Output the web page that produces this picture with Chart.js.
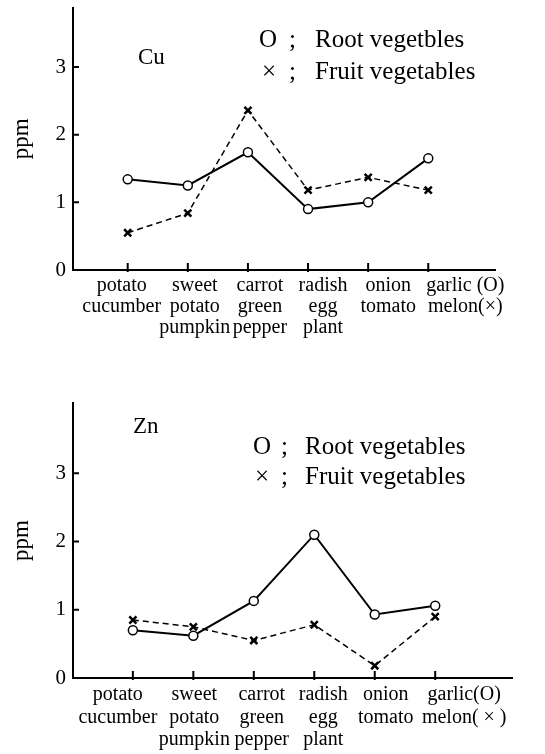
<!DOCTYPE html>
<html>
<head>
<meta charset="utf-8">
<script src="https://cdn.jsdelivr.net/npm/chart.js@4"></script>
<style>
  html, body { margin: 0; padding: 0; background: #fff; }
  .box { position: absolute; left: 0; width: 545px; }
  #cuBox { top: 0; height: 370px; }
  #znBox { top: 370px; height: 384px; }
</style>
</head>
<body>
<div class="box" id="cuBox"><canvas id="cuChart"></canvas></div>
<div class="box" id="znBox"><canvas id="znChart"></canvas></div>
<script>
// Cu panel
const cuLabels = [
  ["potato", "cucumber"],
  ["sweet", "potato", "pumpkin"],
  ["carrot", "green", "pepper"],
  ["radish", "egg", "plant"],
  ["onion", "tomato"],
  ["garlic (O)", "melon(\u00d7)"],
];
const cuRoot = [1.34, 1.25, 1.74, 0.90, 1.00, 1.65];
const cuFruit = [0.55, 0.84, 2.36, 1.18, 1.37, 1.18];

// Zn panel
const znLabels = [
  ["potato", "cucumber"],
  ["sweet", "potato", "pumpkin"],
  ["carrot", "green", "pepper"],
  ["radish", "egg", "plant"],
  ["onion", "tomato"],
  ["garlic(O)", "melon( \u00d7 )"],
];
const znRoot = [0.70, 0.62, 1.13, 2.10, 0.93, 1.06];
const znFruit = [0.85, 0.75, 0.55, 0.78, 0.18, 0.90];

const yTicks = [0, 1, 2, 3];

const FONT = "'Liberation Serif', 'DejaVu Serif', serif";

// tick marks, category labels and the in-plot notes
const decorations = {
  id: "decorations",
  afterDraw(chart, args, opts) {
    const ctx = chart.ctx;
    const xs = chart.scales.x;
    const ys = chart.scales.y;
    ctx.save();
    ctx.strokeStyle = "#000";
    ctx.lineWidth = 2;
    ctx.beginPath();
    opts.labels.forEach((lab, i) => {
      const px = xs.getPixelForValue(i);
      ctx.moveTo(px, ys.bottom - 7);
      ctx.lineTo(px, ys.bottom + 2);
    });
    yTicks.forEach((v) => {
      if (v === 0) return;
      const py = ys.getPixelForValue(v);
      ctx.moveTo(xs.left, py);
      ctx.lineTo(xs.left + 6, py);
    });
    ctx.stroke();

    ctx.fillStyle = "#000";
    ctx.textBaseline = "middle";
    ctx.textAlign = "center";
    ctx.font = "20px " + FONT;
    opts.labels.forEach((lines, i) => {
      const px = xs.getPixelForValue(i) + opts.shift[i];
      lines.forEach((t, j) => {
        ctx.fillText(t, px, ys.bottom + opts.firstLine + j * opts.pitch);
      });
    });

    ctx.textAlign = "left";
    opts.notes.forEach((n) => {
      ctx.font = n.size + "px " + FONT;
      ctx.fillText(n.text, n.x, n.y);
    });
    ctx.restore();
  },
};

function makeChart(id, root, fruit, cfg) {
  const ctx = document.getElementById(id).getContext("2d");
  return new Chart(ctx, {
    type: "line",
    data: {
      datasets: [
        {
          label: "Root vegetables",
          data: root.map((v, i) => ({ x: i, y: v })),
          borderColor: "#000",
          borderWidth: 2,
          pointStyle: "circle",
          pointRadius: 4.5,
          pointBackgroundColor: "#fff",
          pointBorderColor: "#000",
          pointBorderWidth: 1.5,
          tension: 0,
        },
        {
          label: "Fruit vegetables",
          data: fruit.map((v, i) => ({ x: i, y: v })),
          borderColor: "#000",
          borderWidth: 1.5,
          borderDash: [6, 4],
          pointStyle: "crossRot",
          pointRadius: 5,
          pointBorderColor: "#000",
          pointBorderWidth: 2.5,
          tension: 0,
        },
      ],
    },
    options: {
      responsive: true,
      maintainAspectRatio: false,
      animation: false,
      layout: { padding: { left: 0, right: cfg.right, top: cfg.top, bottom: 0 } },
      plugins: {
        legend: { display: false },
        tooltip: { enabled: false },
        decorations: {
          labels: cfg.labels,
          shift: cfg.shift,
          firstLine: cfg.firstLine,
          pitch: cfg.pitch,
          notes: cfg.notes,
        },
      },
      scales: {
        x: {
          type: "linear",
          min: cfg.xMin,
          max: cfg.xMax,
          grid: { display: false },
          border: { display: true, color: "#000", width: 2 },
          ticks: { display: false },
          afterFit: (scale) => {
            scale.height = cfg.xHeight;
            scale.paddingLeft = 0;
            scale.paddingRight = 0;
          },
        },
        y: {
          type: "linear",
          min: 0,
          max: cfg.yMax,
          afterBuildTicks: (scale) => {
            scale.ticks = yTicks.map((v) => ({ value: v }));
          },
          grid: { display: false, drawTicks: false },
          border: { display: true, color: "#000", width: 2 },
          ticks: {
            color: "#000",
            padding: 7,
            font: { family: FONT, size: 21 },
          },
          title: {
            display: true,
            text: "ppm",
            color: "#000",
            font: { family: FONT, size: 23 },
            padding: { top: 8, bottom: 0 },
          },
          afterFit: (scale) => {
            scale.width = cfg.yWidth;
            scale.paddingTop = 0;
            scale.paddingBottom = 0;
          },
        },
      },
    },
    plugins: [decorations],
  });
}

makeChart("cuChart", cuRoot, cuFruit, {
  labels: cuLabels,
  shift: [-6, 7, 12, 15, 20, 37],
  firstLine: 16,
  pitch: 21,
  xMin: -0.91,
  xMax: 6.11,
  yMax: 3.88,
  top: 5,
  right: 50,
  xHeight: 100,
  yWidth: 73,
  notes: [
    { text: "Cu", x: 138, y: 58, size: 23 },
    { text: "O", x: 259, y: 40, size: 25 },
    { text: ";", x: 289, y: 40, size: 25 },
    { text: "Root vegetbles", x: 315, y: 40, size: 25 },
    { text: "\u00d7", x: 262, y: 72, size: 25 },
    { text: ";", x: 289, y: 72, size: 25 },
    { text: "Fruit vegetables", x: 315, y: 72, size: 25 },
  ],
});

makeChart("znChart", znRoot, znFruit, {
  labels: znLabels,
  shift: [-15, 1, 8, 9, 11, 29],
  firstLine: 17,
  pitch: 22.5,
  xMin: -0.99,
  xMax: 6.27,
  yMax: 4.03,
  top: 33,
  right: 33,
  xHeight: 76,
  yWidth: 73,
  notes: [
    { text: "Zn", x: 133, y: 57, size: 23 },
    { text: "O", x: 253, y: 77, size: 25 },
    { text: ";", x: 281, y: 77, size: 25 },
    { text: "Root vegetables", x: 305, y: 77, size: 25 },
    { text: "\u00d7", x: 255, y: 107, size: 25 },
    { text: ";", x: 281, y: 107, size: 25 },
    { text: "Fruit vegetables", x: 305, y: 107, size: 25 },
  ],
});
</script>
</body>
</html>
